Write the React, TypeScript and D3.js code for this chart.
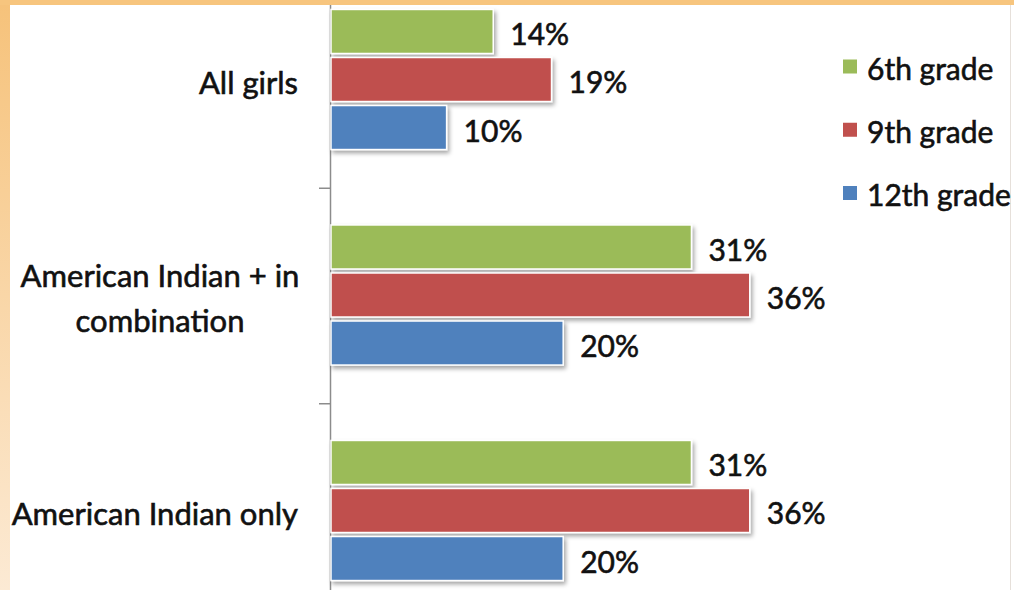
import React from "react";
import * as d3 from "d3";

const categories = ["All girls", "American Indian + in combination", "American Indian only"];
const categoryLines = [["All girls"], ["American Indian + in", "combination"], ["American Indian only"]];
const seriesNames = ["6th grade", "9th grade", "12th grade"];
const seriesColors = ["#9BBB59", "#C0504D", "#4F81BD"];
const values = [
  [14, 19, 10],
  [31, 36, 20],
  [31, 36, 20],
];

const W = 1014;
const H = 590;
const FONT = "Lato, 'Open Sans', sans-serif";
const TEXT_STROKE = { stroke: "#111", strokeWidth: 0.6 };

export default function App() {
  const x = d3.scaleLinear().domain([0, 40]).range([330, 330 + 40 * 11.66]);
  const y = d3.scaleBand<string>().domain(categories).range([-28.25, 618.25]).paddingInner(0.35).paddingOuter(0.175);
  const yi = d3.scaleBand<string>().domain(seriesNames).range([0, y.bandwidth()]).paddingInner(4 / 48).paddingOuter(0);
  const ticks = categories.slice(1).map((c) => (y(c) as number) - (y.step() - y.bandwidth()) / 2 + 1);
  const legendY = d3.scalePoint<string>().domain(seriesNames).range([66.5, 193]);

  return (
    <div style={{ position: "fixed", left: 0, top: 0 }}>
      <svg width={W} height={H} style={{ display: "block" }}>
        <defs>
          <linearGradient id="leftGrad" x1="0" y1="0" x2="0" y2="1">
            <stop offset="0" stopColor="#F6C27A" />
            <stop offset="1" stopColor="#FCEAD4" />
          </linearGradient>
          <filter id="shadow" x="-5%" y="-20%" width="115%" height="160%">
            <feDropShadow dx="2" dy="3" stdDeviation="2" floodColor="#000" floodOpacity="0.35" />
          </filter>
        </defs>
        <rect x={0} y={0} width={W} height={H} fill="#fff" />
        <rect x={0} y={0} width={10} height={H} fill="url(#leftGrad)" />
        <rect x={0} y={0} width={W} height={5} fill="#F7C57E" />
        <line x1={1010.5} x2={1010.5} y1={5} y2={H} stroke="#e6e0da" strokeWidth={1} />

        {/* axis */}
        <line x1={330.5} x2={330.5} y1={5} y2={H} stroke="#8c8c8c" strokeWidth={1.5} />
        {ticks.map((t, i) => (
          <line key={i} x1={319} x2={331} y1={t} y2={t} stroke="#8c8c8c" strokeWidth={1.5} />
        ))}

        {/* bars */}
        {categories.map((c, ci) => (
          <g key={c} transform={`translate(0,${y(c)})`}>
            {seriesNames.map((s, si) => {
              const v = values[ci][si];
              const by = yi(s) as number;
              return (
                <g key={s}>
                  <rect
                    x={x(0) + 1}
                    y={by}
                    width={x(v) - x(0) - 1}
                    height={yi.bandwidth()}
                    fill={seriesColors[si]}
                    stroke="#fff"
                    strokeWidth={1.5}
                    filter="url(#shadow)"
                  />
                  <text
                    x={x(v) + 17}
                    y={by + yi.bandwidth() / 2 + 2}
                    dominantBaseline="central"
                    fontFamily={FONT}
                    fontSize={30}
                    fill="#111"
                    {...TEXT_STROKE}
                  >
                    {v}%
                  </text>
                </g>
              );
            })}
          </g>
        ))}

        {/* category labels */}
        {categories.map((c, ci) => {
          const lines = categoryLines[ci];
          const cy = (y(c) as number) + y.bandwidth() / 2;
          const lh = 45;
          return lines.map((ln, li) => (
            <text
              key={c + li}
              x={lines.length > 1 ? 160 : 298}
              y={cy + (li - (lines.length - 1) / 2) * lh + 2}
              textAnchor={lines.length > 1 ? "middle" : "end"}
              dominantBaseline="central"
              fontFamily={FONT}
              fontSize={31}
              fill="#111"
              {...TEXT_STROKE}
            >
              {ln}
            </text>
          ));
        })}

        {/* legend */}
        {seriesNames.map((s, si) => (
          <g key={s}>
            <rect x={843} y={(legendY(s) as number) - 7} width={14} height={14} fill={seriesColors[si]} />
            <text
              x={867}
              y={(legendY(s) as number) + 1}
              dominantBaseline="central"
              fontFamily={FONT}
              fontSize={30}
              fill="#111"
              {...TEXT_STROKE}
            >
              {s}
            </text>
          </g>
        ))}
      </svg>
    </div>
  );
}
